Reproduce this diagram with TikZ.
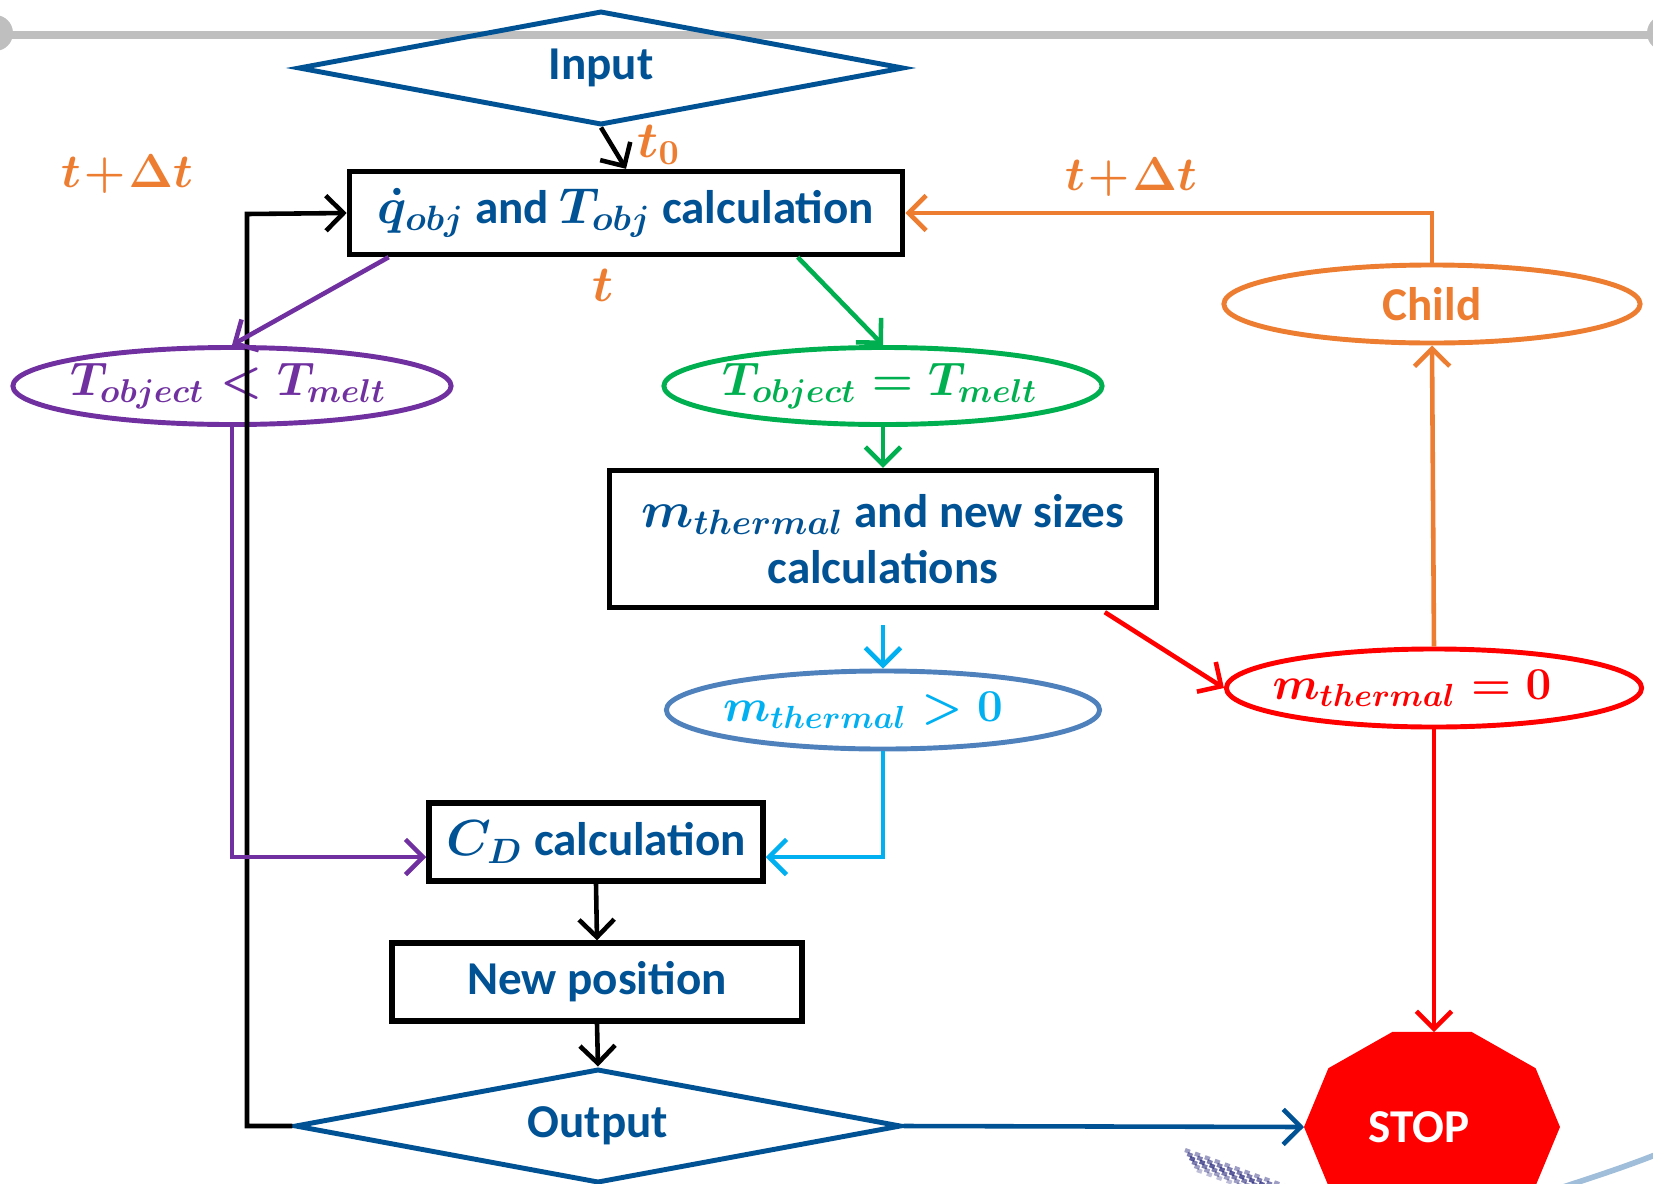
\RequirePackage{fix-cm}
\documentclass[tikz,border=0pt]{standalone}
\usepackage{fontspec}
\setmainfont{Carlito}
\usetikzlibrary{shapes.geometric,arrows.meta,calc}

\definecolor{dkblue}{RGB}{0,82,148}
\definecolor{orng}{RGB}{237,125,49}
\definecolor{purp}{RGB}{112,48,160}
\definecolor{grn}{RGB}{0,176,80}
\definecolor{ltblue}{RGB}{0,176,240}
\definecolor{steel}{RGB}{79,129,189}
\definecolor{stopred}{RGB}{255,0,0}
\definecolor{rulegray}{RGB}{191,191,191}
\definecolor{navy}{RGB}{40,40,125}
\definecolor{arcblue}{RGB}{160,190,218}

% centred text that does not widen its node
\newcommand{\centred}[2][0pt]{\hspace*{#1}\makebox[0pt][c]{#2}}
% formulas inside the boxes, a little larger than the words
\newcommand{\boxmath}[1]{{\fontsize{14.4}{16}\selectfont$#1$}}

\tikzset{
  txt/.style={font=\fontsize{13.4}{16}\selectfont\bfseries\boldmath, text=dkblue, align=center},
  box/.style={txt, draw=black, line width=1.5pt, rectangle, inner sep=0pt},
  dia/.style={txt, draw=dkblue, line width=1.4pt, diamond, aspect=6, inner sep=0pt,
              minimum width=6.05cm, minimum height=1.14cm},
  ell/.style={font=\fontsize{13.4}{16}\selectfont\bfseries\boldmath, ellipse, line width=1.4pt, inner sep=0pt},
  lbl/.style={font=\fontsize{14.4}{16}\selectfont\boldmath, text=orng},
  arr/.style={line width=1.3pt, -{Straight Barb[length=5pt,width=10pt,line width=1.3pt]}},
}

\begin{document}
\begin{tikzpicture}[x=0.01cm,y=-0.01cm]
\useasboundingbox (0,0) rectangle (1653,1184);

% slide rule at the top
\draw[rulegray, line width=2pt] (0,35) -- (1653,35);
\fill[rulegray] (-5,33) circle (18);
\fill[rulegray] (1665,33) circle (18);

% slide decorations, lower right
\begin{scope}
\clip (0,0) rectangle (1653,1184);
\draw[arcblue, line width=1.6pt] (1560,1188) .. controls (1600,1175) and (1630,1165) .. (1660,1153);
\foreach \d/\o in {0/0.45,4/0.6,8/0.75,12/0.6,16/0.45,20/0.3}{
  \draw[navy, opacity=\o, line width=1.2pt, dash pattern=on 1.5pt off 1.5pt]
    (1185+\d*0.6,1150+\d) -- (1290+\d*0.6,1188+\d);
}
\end{scope}

% flowchart nodes
\node[dia] (input) at (601,68) {Input};
\node[box, minimum width=5.53cm, minimum height=0.83cm] (qcalc) at (626,213)
  {\boxmath{\dot{q}_{obj}} and \boxmath{T_{obj}} calculation};
\node[ell, draw=purp, text=purp, minimum width=4.38cm, minimum height=0.77cm] (tless) at (232,386)
  {\centred[-0.07cm]{$T_{object} < T_{melt}$}};
\node[ell, draw=grn, text=grn, minimum width=4.38cm, minimum height=0.77cm] (teq) at (883,386)
  {\centred[-0.06cm]{$T_{object} = T_{melt}$}};
\node[box, minimum width=5.46cm, minimum height=1.37cm] (mcalc) at (883,539)
  {\boxmath{m_{thermal}} and new sizes\\[0pt] calculations};
\node[ell, draw=steel, text=ltblue, font=\fontsize{13}{16}\selectfont\bfseries\boldmath,
      minimum width=4.33cm, minimum height=0.78cm] (mpos) at (883,710)
  {\centred[-0.4cm]{$m_{thermal} > 0$}};
\node[ell, draw=stopred, text=stopred, font=\fontsize{13}{16}\selectfont\bfseries\boldmath,
      minimum width=4.15cm, minimum height=0.78cm] (mzero) at (1434,688)
  {\centred[-0.44cm]{$m_{thermal} = 0$}};
\node[ell, draw=orng, text=orng, font=\fontsize{13.4}{16}\selectfont\bfseries,
      minimum width=4.16cm, minimum height=0.78cm] (child) at (1432,304) {\centred{Child}};
\node[box, minimum width=3.34cm, minimum height=0.78cm] (cd) at (596,842) {\boxmath{C_D} calculation};
\node[box, minimum width=4.10cm, minimum height=0.78cm] (newpos) at (597,982) {New position};
\node[dia, minimum width=6.06cm] (output) at (598,1126) {Output};

% stop sign: a decagon stretched sideways
\fill[stopred] (1471.6,1031.9) -- (1392.4,1031.9) -- (1328.4,1068.2) -- (1304,1127)
  -- (1328.4,1185.8) -- (1392.4,1222.1) -- (1471.6,1222.1) -- (1535.6,1185.8)
  -- (1560,1127) -- (1535.6,1068.2) -- cycle;
\coordinate (stoptop) at (1434,1032);
\coordinate (stopleft) at (1304,1127);
\node[font=\fontsize{13.4}{16}\selectfont\bfseries, text=white] (stop) at (1419,1127) {STOP};

% connector end points on box edges
\coordinate (qout1) at ($(qcalc.south west)+(42,0)$);
\coordinate (qout2) at ($(qcalc.south west)+(451,0)$);
\coordinate (mout1) at ($(mcalc.south)+(0,15)$);
\coordinate (mout2) at ($(mcalc.south east)+(-54,2)$);
\coordinate (loopx) at (247,214);

% connectors
\draw[arr, black] (input.south) -- (qcalc.north);
\draw[arr, black] (output.west) -| (loopx) -- (qcalc.west);
\draw[arr, orng] (child.north) |- (qcalc.east);
\draw[arr, orng] (mzero.north) -- (child.south);
\draw[arr, purp] (qout1) -- (tless.north);
\draw[arr, purp] (tless.south) |- ([yshift=-0.15cm]cd.west);
\draw[arr, grn] (qout2) -- (teq.north);
\draw[arr, grn] (teq.south) -- (mcalc.north);
\draw[arr, ltblue] (mout1) -- (mpos.north);
\draw[arr, ltblue] (mpos.south) |- ([yshift=-0.15cm]cd.east);
\draw[arr, stopred] (mout2) -- (mzero.west);
\draw[arr, stopred] (mzero.south) -- (stoptop);
\draw[arr, black] (cd.south) -- (newpos.north);
\draw[arr, black] (newpos.south) -- (output.north);
\draw[arr, dkblue] (output.east) -- (stopleft);

% time labels
\node[lbl] (tzero) at (659,145) {$t_0$};
\node[lbl, font=\fontsize{13.5}{16}\selectfont\boldmath] (tstep1) at (127,174)
  {$t\mkern1mu{+}\mkern1mu\Delta t$};
\node[lbl, font=\fontsize{13.5}{16}\selectfont\boldmath] (tstep2) at (1131,177)
  {$t\mkern1mu{+}\mkern1mu\Delta t$};
\node[lbl] (tnow) at (603,285) {$t$};
\end{tikzpicture}
\end{document}
